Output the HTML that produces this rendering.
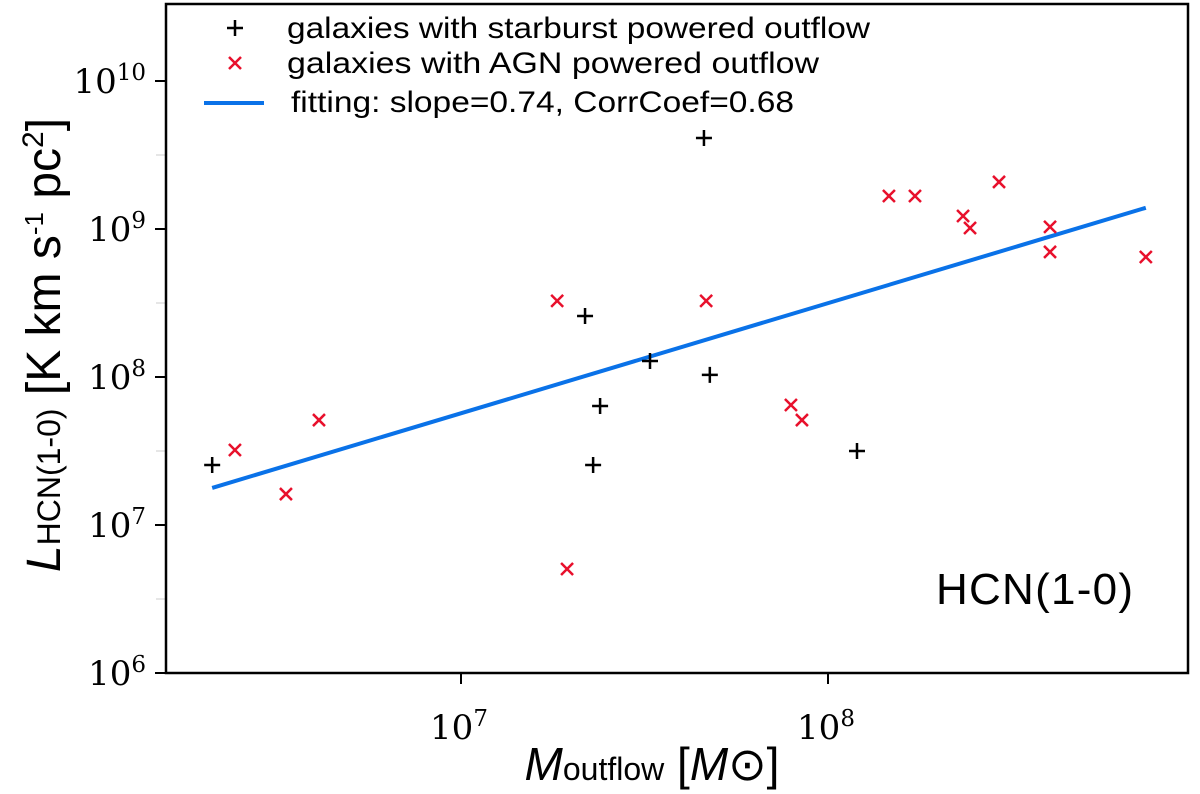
<!DOCTYPE html>
<html><head><meta charset="utf-8"><style>
body{margin:0;background:#fff}
svg{display:block}
.t{font-family:"Liberation Sans",sans-serif}
.d{font-family:"DejaVu Sans","Liberation Sans",sans-serif}
.s{font-family:"DejaVu Serif","Liberation Serif",serif}
</style></head><body>
<svg id="c" width="1200" height="794" xmlns="http://www.w3.org/2000/svg"></svg>
<script>
const sbX=[6.322,7.338,7.379,7.360,7.515,7.662,7.678,8.079];
const sbY=[7.405,8.412,7.804,7.405,8.108,9.615,8.014,7.500];
const agnX=[6.384,6.523,6.613,7.262,7.289,7.668,7.899,7.929,8.166,8.237,8.368,8.387,8.466,8.605,8.605,8.866];
const agnY=[7.507,7.209,7.709,8.514,6.703,8.514,7.811,7.709,9.223,9.223,9.088,9.007,9.318,9.014,8.845,8.811];
const fitSlope=0.744;
const fitIntercept=2.547;
const fitRange=[6.322,8.866];
const yTicks=[6,7,8,9,10];
const xTicks=[7,8];
const L=166,R=1188,T=4,B=673;
const X=v=>461+(v-7)*367;
const Y=v=>673-(v-6)*148;
const svg=document.getElementById('c');
const NS='http://www.w3.org/2000/svg';
function mk(tag,attrs,parent){const e=document.createElementNS(NS,tag);for(const k in attrs)e.setAttribute(k,attrs[k]);(parent||svg).appendChild(e);return e;}
for(let i=0;i<yTicks.length-1;i++){
 const m=mk('line',{x1:L-10,x2:L,y1:Y(yTicks[i]+0.5),y2:Y(yTicks[i]+0.5),stroke:'#ddd','stroke-width':1.5});
 
 
}
yTicks.forEach(v=>{
 const l=mk('line',{x1:L-11,x2:L,y1:Y(v),y2:Y(v),stroke:'#000','stroke-width':2});
 
 
 const t=mk('text',{x:L-20,y:Y(v)+12,'text-anchor':'end','font-size':34,class:'s'});
 
 
 t.innerHTML='10<tspan dy="-13" font-size="23">'+v+'</tspan>';
});
xTicks.forEach(v=>{
 const l=mk('line',{x1:X(v),x2:X(v),y1:B,y2:B+11,stroke:'#000','stroke-width':2});
 
 
 const t=mk('text',{x:X(v)-2,y:B+66,'text-anchor':'middle','font-size':34,class:'s'});
 
 
 t.innerHTML='10<tspan dy="-13" font-size="23">'+v+'</tspan>';
});
const fl=mk('line',{x1:X(fitRange[0]),y1:Y(fitSlope*fitRange[0]+fitIntercept),x2:X(fitRange[1]),y2:Y(fitSlope*fitRange[1]+fitIntercept),stroke:'#0a72e8','stroke-width':4});


function plus(x,y,name){const g=mk('path',{d:`M${x-8},${y}H${x+8}M${x},${y-8}V${y+8}`,stroke:'#000','stroke-width':2.5});}
function cross(x,y,name){const g=mk('path',{d:`M${x-6},${y-6}L${x+6},${y+6}M${x-6},${y+6}L${x+6},${y-6}`,stroke:'#e8102c','stroke-width':2.5});}
sbX.forEach((v,i)=>plus(X(v),Y(sbY[i]),'starburst-point'));
agnX.forEach((v,i)=>cross(X(v),Y(agnY[i]),'agn-point'));
const fr=mk('rect',{x:L,y:T,width:R-L,height:B-T,fill:'none',stroke:'#000','stroke-width':2.5});


</script>
<svg width="1200" height="794" style="position:absolute;left:0;top:0">
<g class="t" font-size="30">
<path d="M227,28H243M235,20V36" stroke="#000" stroke-width="2.5"/>
<text x="287" y="38" textLength="583" lengthAdjust="spacingAndGlyphs">galaxies with starburst powered outflow</text>
<path d="M229,57L241,69M229,69L241,57" stroke="#e8102c" stroke-width="2.5"/>
<text x="287" y="73" textLength="532" lengthAdjust="spacingAndGlyphs">galaxies with AGN powered outflow</text>
<line x1="204" x2="264" y1="103" y2="103" stroke="#0a72e8" stroke-width="4"/>
<text x="291" y="112" textLength="503" lengthAdjust="spacingAndGlyphs">fitting: slope=0.74, CorrCoef=0.68</text>
</g>
<text x="1133" y="604" text-anchor="end" font-size="44" textLength="197" class="t">HCN(1-0)</text>
<text x="652" y="780" text-anchor="middle" font-size="46" class="t"><tspan font-style="italic">M</tspan><tspan font-size="32">outflow</tspan> [<tspan font-style="italic">M</tspan>⊙]</text>
<text transform="translate(60,345) rotate(-90)" text-anchor="middle" font-size="48" class="t"><tspan font-style="italic">L</tspan><tspan font-size="32">HCN(1-0)</tspan> [K km s<tspan dy="-17" font-size="26">-1</tspan><tspan dy="17"> pc</tspan><tspan dy="-17" font-size="30">2</tspan><tspan dy="17">]</tspan></text>
</svg>
</body></html>
